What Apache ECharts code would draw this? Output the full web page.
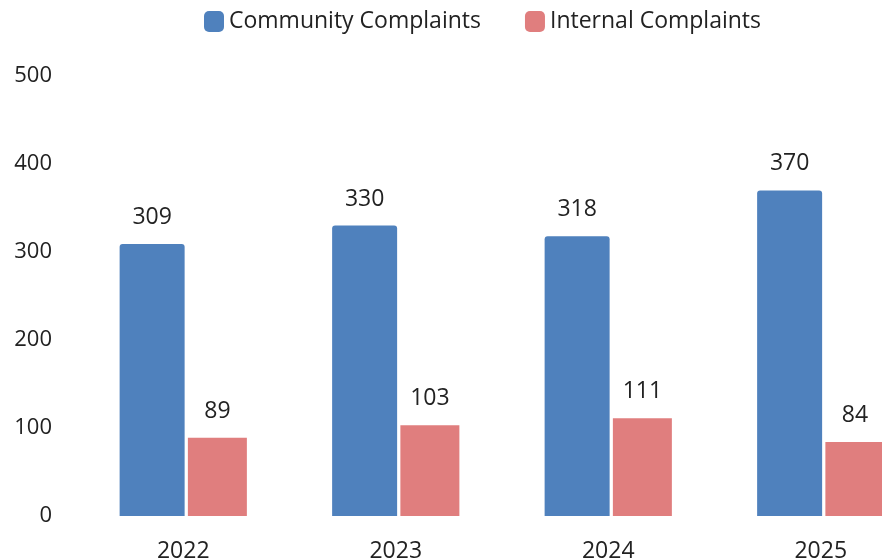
<!DOCTYPE html>
<html lang="en">
<head>
    <meta charset="UTF-8">
    <title>Complaints</title>
    <style>
        * { margin: 0; padding: 0; }
        body { background: #fff; }
        #chart { width: 882px; height: 559px; }
    </style>
    <script src="https://cdn.jsdelivr.net/npm/echarts@6/dist/echarts.min.js"></script>
</head>
<body>
    <div id="chart"></div>
    <script>
        var years = ["2022", "2023", "2024", "2025"];
        var communityComplaints = [309, 330, 318, 370];
        var internalComplaints = [89, 103, 111, 84];
        var yTicks = [0, 100, 200, 300, 400, 500];

        var font = "Open Sans";
        var myChart = echarts.init(document.getElementById("chart"));

        var option = {
            animation: false,
            textStyle: { fontFamily: font },
            legend: {
                top: 5,
                left: 199,
                itemWidth: 20,
                itemHeight: 21,
                itemGap: 44,
                icon: "roundRect",
                textStyle: { fontSize: 23, color: "#222", fontFamily: font }
            },
            // plot area runs past the right edge, like the cropped original
            grid: { left: 77, width: 850, top: 76, bottom: 43, outerBoundsMode: "none" },
            xAxis: {
                type: "category",
                data: years,
                axisLine: { show: false },
                axisTick: { show: false },
                axisLabel: { fontSize: 23, color: "#222", margin: 24 }
            },
            yAxis: {
                type: "value",
                min: yTicks[0],
                max: yTicks[yTicks.length - 1],
                interval: 100,
                splitLine: { show: false },
                axisLine: { show: false },
                axisTick: { show: false },
                axisLabel: { fontSize: 22, color: "#222", margin: 25 }
            },
            series: [
                {
                    name: "Community Complaints",
                    type: "bar",
                    data: communityComplaints,
                    barWidth: 65,
                    barGap: "5%",
                    itemStyle: { color: "#4f81bd", borderRadius: [3, 3, 0, 0] },
                    label: { show: true, position: "top", distance: 15, fontSize: 23, color: "#222" }
                },
                {
                    name: "Internal Complaints",
                    type: "bar",
                    data: internalComplaints,
                    barWidth: 59,
                    itemStyle: { color: "#e07e7e" },
                    label: { show: true, position: "top", distance: 15, fontSize: 23, color: "#222" }
                }
            ]
        };
        myChart.setOption(option);
    </script>
</body>
</html>
